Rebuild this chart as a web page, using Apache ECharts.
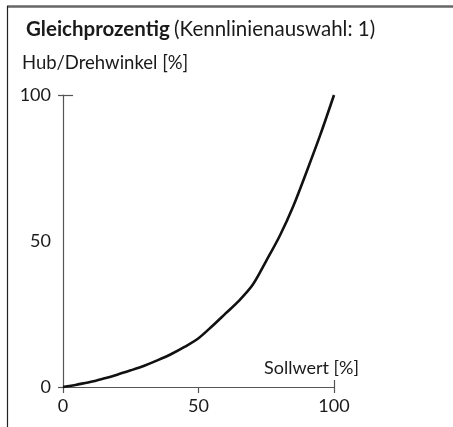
<!DOCTYPE html>
<html>
<head>
<meta charset="utf-8">
<style>
  html, body { margin: 0; padding: 0; background: #fff; }
  #chart { width: 453px; height: 427px; }
</style>
<script src="https://cdn.jsdelivr.net/npm/echarts@6/dist/echarts.min.js"></script>
</head>
<body>
<div id="chart"></div>
<script>
// Equal-percentage characteristic: travel vs. set point
const setPoint = [0, 5, 10, 15, 20, 25, 30, 35, 40, 45, 50, 55, 60, 65, 70, 75, 80, 85, 90, 95, 100];
const travel   = [0, 0.8, 1.7, 2.9, 4.2, 5.7, 7.3, 9.2, 11.3, 13.8, 16.7, 20.8, 25.2, 29.6, 35.0, 43.2, 51.8, 62.0, 74.0, 86.5, 100];
const xTicks = [0, 50, 100];
const yTicks = [0, 50, 100];

const titleBold = 'Gleichprozentig';
const titleRest = '(Kennlinienauswahl: 1)';
const yName = 'Hub/Drehwinkel [%]';
const xName = 'Sollwert [%]';

const FONT = 'Lato';
const INK = '#1a1a1a';
const AXIS = '#555';

// shared look of both axis pairs
const axisBase = {
  type: 'value', min: 0, max: 100, interval: 50,
  splitLine: { show: false }
};

const chart = echarts.init(document.getElementById('chart'));
chart.setOption({
  animation: false,
  backgroundColor: '#fff',
  textStyle: { fontFamily: FONT },
  title: [
    {
      text: '{b|' + titleBold + '} {r|' + titleRest + '}',
      left: 21, top: 14,
      textStyle: {
        rich: {
          b: { fontFamily: FONT, fontWeight: 'bold', fontSize: 20.5, color: INK },
          r: { fontFamily: FONT, fontWeight: 'normal', fontSize: 20.5, color: INK }
        }
      }
    },
    {
      text: yName, left: 17, top: 49,
      textStyle: { fontFamily: FONT, fontWeight: 'normal', fontSize: 18.5, color: INK }
    },
    {
      text: xName, left: 259, top: 354,
      textStyle: { fontFamily: FONT, fontWeight: 'normal', fontSize: 18, color: INK }
    }
  ],
  graphic: [
    { type: 'line', shape: { x1: 7, y1: 6.5, x2: 453, y2: 6.5 }, style: { stroke: '#666', lineWidth: 2.5 } },
    { type: 'line', shape: { x1: 7.5, y1: 6, x2: 7.5, y2: 427 }, style: { stroke: '#222', lineWidth: 1.2 } }
  ],
  grid: { left: 63, right: 119, top: 95, bottom: 40, containLabel: false },
  xAxis: [
    Object.assign({}, axisBase, {
      position: 'bottom',
      axisLine: { onZero: false, lineStyle: { color: AXIS, width: 1.2 } },
      axisTick: { show: true, inside: false, length: 6, customValues: xTicks, lineStyle: { color: AXIS, width: 1.2 } },
      axisLabel: { margin: 10, fontSize: 18, color: INK, fontFamily: FONT, customValues: xTicks }
    }),
    // end tick that reaches up into the plot
    Object.assign({}, axisBase, {
      position: 'bottom',
      axisLine: { show: false },
      axisTick: { show: true, inside: true, length: 7, customValues: [100], lineStyle: { color: AXIS, width: 1.2 } },
      axisLabel: { show: false }
    })
  ],
  yAxis: [
    Object.assign({}, axisBase, {
      position: 'left',
      axisLine: { show: true, onZero: false, lineStyle: { color: AXIS, width: 1.2 } },
      axisTick: { show: true, inside: false, length: 5, customValues: [0, 100], lineStyle: { color: AXIS, width: 1.2 } },
      axisLabel: { margin: 12, fontSize: 18, color: INK, fontFamily: FONT, customValues: yTicks }
    }),
    // end tick that reaches right into the plot
    Object.assign({}, axisBase, {
      position: 'left',
      axisLine: { show: false },
      axisTick: { show: true, inside: true, length: 10, customValues: [100], lineStyle: { color: AXIS, width: 1.2 } },
      axisLabel: { show: false }
    })
  ],
  series: [{
    type: 'line',
    xAxisIndex: 0, yAxisIndex: 0,
    data: setPoint.map((x, i) => [x, travel[i]]),
    smooth: 0.3,
    showSymbol: false,
    clip: false,
    lineStyle: { color: '#111', width: 2.6 }
  }]
});
</script>
</body>
</html>
